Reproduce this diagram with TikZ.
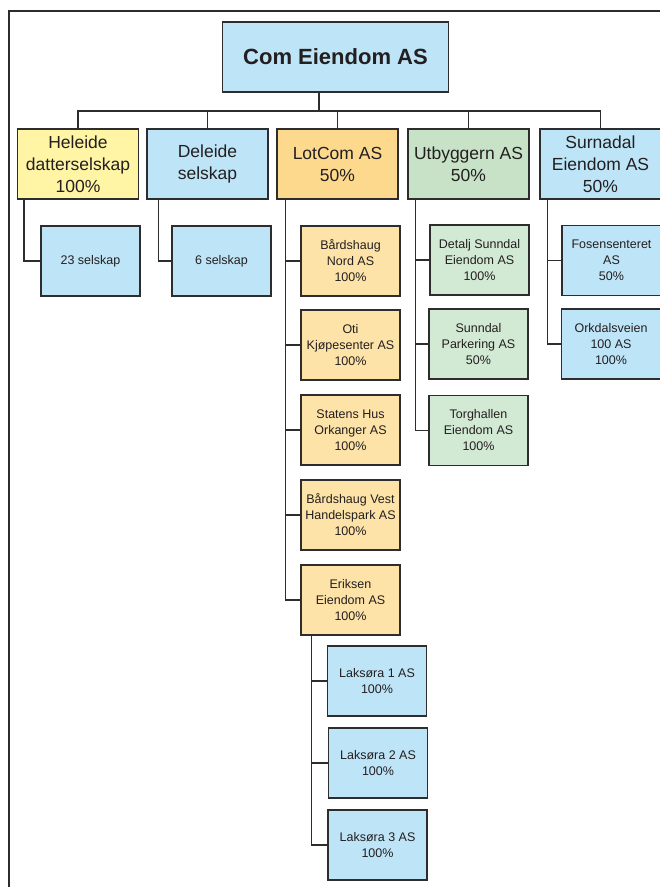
\documentclass[tikz,border=0pt]{standalone}
\usepackage{fontspec}
\setmainfont{Liberation Sans}
\usepackage{tikz}

\definecolor{boxblue}{RGB}{190,228,247}
\definecolor{boxyellow}{RGB}{255,245,165}
\definecolor{boxorange}{RGB}{253,217,142}
\definecolor{boxorangelight}{RGB}{253,227,168}
\definecolor{boxgreen}{RGB}{200,226,200}
\definecolor{boxgreenlight}{RGB}{210,233,212}
\definecolor{linegray}{RGB}{45,45,45}
\definecolor{textdark}{RGB}{35,31,32}

\begin{document}
\begin{tikzpicture}[x=1pt,y=-1pt,
	box/.style={draw=linegray,line width=1.1pt,text=textdark,inner sep=0pt,align=center,minimum height=70pt},
	toplevel/.style={box,fill=boxblue,minimum width=226pt,font=\fontsize{22}{26}\selectfont\bfseries},
	company/.style={box,minimum width=121pt,font=\fontsize{17.5}{22}\selectfont},
	subsidiary/.style={box,minimum width=99pt,font=\fontsize{12.5}{16}\selectfont},
	link/.style={draw=linegray,line width=1.1pt}]
		\useasboundingbox (0,0) rectangle (660,887);
		\draw[draw=linegray,line width=1.3pt] (9,887) -- (9,11) -- (670,11);
		\draw
		node[toplevel] (root) at (335.5, 57){Com Eiendom AS}
		node[company,fill=boxyellow] (heleide) at (78, 164){Heleide\\datterselskap\\100\%}
		node[company,fill=boxblue] (deleide) at (207.5, 164){Deleide\\selskap}
		node[company,fill=boxorange] (lotcom) at (337.5, 164){LotCom AS\\50\%}
		node[company,fill=boxgreen] (utbyggern) at (468.5, 164){Utbyggern AS\\50\%}
		node[company,fill=boxblue] (surnadal) at (600.5, 164){Surnadal\\Eiendom AS\\50\%}
		node[subsidiary,fill=boxblue] (heleide_23) at (90.5, 261){23 selskap}
		node[subsidiary,fill=boxblue] (deleide_6) at (221.5, 261){6 selskap}
		node[subsidiary,fill=boxorangelight] (lotcom_nord) at (350.5, 261){Bårdshaug\\Nord AS\\100\%}
		node[subsidiary,fill=boxorangelight] (lotcom_oti) at (350.5, 345){Oti\\Kjøpesenter AS\\100\%}
		node[subsidiary,fill=boxorangelight] (lotcom_statens) at (350.5, 430){Statens Hus\\Orkanger AS\\100\%}
		node[subsidiary,fill=boxorangelight] (lotcom_vest) at (350.5, 515){Bårdshaug Vest\\Handelspark AS\\100\%}
		node[subsidiary,fill=boxorangelight] (lotcom_eriksen) at (350.5, 600){Eriksen\\Eiendom AS\\100\%}
		node[subsidiary,fill=boxblue] (eriksen_lak1) at (377, 681){Laksøra 1 AS\\100\%}
		node[subsidiary,fill=boxblue] (eriksen_lak2) at (378, 763){Laksøra 2 AS\\100\%}
		node[subsidiary,fill=boxblue] (eriksen_lak3) at (377.5, 845){Laksøra 3 AS\\100\%}
		node[subsidiary,fill=boxgreenlight] (utb_detalj) at (479.5, 260){Detalj Sunndal\\Eiendom AS\\100\%}
		node[subsidiary,fill=boxgreenlight] (utb_parkering) at (478.5, 344){Sunndal\\Parkering AS\\50\%}
		node[subsidiary,fill=boxgreenlight] (utb_torghallen) at (478.5, 430.5){Torghallen\\Eiendom AS\\100\%}
		node[subsidiary,fill=boxblue] (surn_fosen) at (611.5, 260.5){Fosensenteret\\AS\\50\%}
		node[subsidiary,fill=boxblue] (surn_orkdal) at (611, 344){Orkdalsveien\\100 AS\\100\%};
		\coordinate (bus) at (319, 111);
		\draw[link] (bus) -- (bus |- root.south);
		\draw[link] (bus) -| (heleide.north);
		\draw[link] (bus) -| (deleide.north);
		\draw[link] (bus) -| (lotcom.north);
		\draw[link] (bus) -| (utbyggern.north);
		\draw[link] (bus) -| (surnadal.north);
		\draw[link] ([xshift=7pt]heleide.south west) |- (heleide_23.west);
		\draw[link] ([xshift=12pt]deleide.south west) |- (deleide_6.west);
			\draw[link] ([xshift=9pt]lotcom.south west) |- (lotcom_nord.west);
			\draw[link] ([xshift=9pt]lotcom.south west) |- (lotcom_oti.west);
			\draw[link] ([xshift=9pt]lotcom.south west) |- (lotcom_statens.west);
			\draw[link] ([xshift=9pt]lotcom.south west) |- (lotcom_vest.west);
			\draw[link] ([xshift=9pt]lotcom.south west) |- (lotcom_eriksen.west);
			\draw[link] ([xshift=11pt]lotcom_eriksen.south west) |- (eriksen_lak1.west);
			\draw[link] ([xshift=11pt]lotcom_eriksen.south west) |- (eriksen_lak2.west);
			\draw[link] ([xshift=11pt]lotcom_eriksen.south west) |- (eriksen_lak3.west);
		\draw[link] ([xshift=8pt]utbyggern.south west) |- (utb_detalj.west);
		\draw[link] ([xshift=8pt]utbyggern.south west) |- (utb_parkering.west);
		\draw[link] ([xshift=8pt]utbyggern.south west) |- (utb_torghallen.west);
		\draw[link] ([xshift=8pt]surnadal.south west) |- (surn_fosen.west);
		\draw[link] ([xshift=8pt]surnadal.south west) |- (surn_orkdal.west);
		\end{tikzpicture}
\end{document}
